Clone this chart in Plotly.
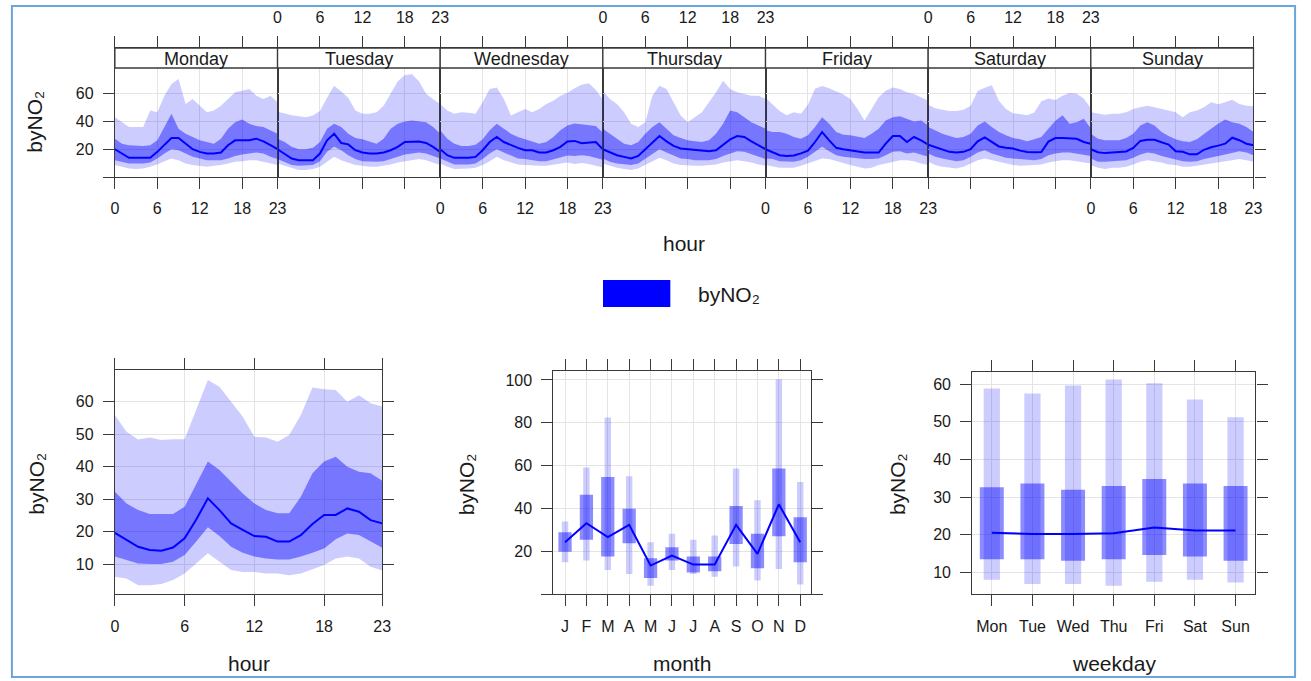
import plotly.graph_objects as go

W, H = 1311, 681

# ---------------- data ----------------
HOURS = list(range(24))
DAYS = ["Monday", "Tuesday", "Wednesday", "Thursday", "Friday", "Saturday", "Sunday"]
VAR_NAME = "byNO\u2082"

MON_MED = [20, 16.9, 13.8, 13.8, 13.8, 13.8, 18.1, 22.9, 28.1, 28.1, 24, 20, 18.1, 16.9, 16.9, 17.6, 22.9, 26.4, 26.4, 26.4, 27.6, 25.7, 22.9, 20]
MON_P75 = [27.6, 24, 22.9, 22.4, 22.4, 22.9, 26.4, 36, 45.5, 34.8, 31.2, 28.8, 26.4, 25.2, 24, 27.6, 34.8, 39.5, 41.4, 38.3, 36.7, 36, 33.6, 31.2]
MON_P25 = [12.1, 11, 9.8, 9.8, 9.8, 10.5, 13.3, 16.9, 20, 19.3, 16.9, 14.5, 13.3, 12.1, 12.1, 12.1, 13.3, 15.2, 16.2, 16.9, 17.6, 16.9, 14.5, 12.9]
MON_P95 = [43.1, 39.5, 36, 36, 36, 47.9, 46.7, 58.6, 66.9, 70.5, 52.6, 56.2, 51.4, 46.7, 47.9, 51.4, 56.2, 61, 62.1, 63.3, 58.6, 56.2, 58.6, 53.8]
MON_P05 = [8.6, 7.4, 6.2, 5.7, 6.2, 7.4, 9.0, 11.4, 13.3, 12.1, 9.8, 8.6, 8.1, 7.4, 8.1, 8.6, 9.8, 11, 11.4, 12.1, 12.1, 11, 9.8, 8.6]

TUE_MED = [20, 16.9, 13.3, 12.1, 12.1, 12.1, 16.9, 26.4, 31.2, 24.5, 23.5, 19.3, 17.6, 16.9, 16.9, 17.6, 19.3, 21.7, 25.2, 25.5, 25.5, 24.5, 21.7, 18]
TUE_P75 = [27.6, 25.2, 21.7, 20, 20, 21, 25.2, 34.8, 38.3, 36, 31.2, 28.1, 27.1, 25.7, 24, 27.6, 34.8, 38.3, 40, 40.7, 40, 39.5, 36, 31.2]
TUE_P25 = [12.9, 11, 8.6, 8.1, 8.1, 8.6, 11.4, 18.1, 21.7, 19.3, 15.7, 12.9, 11.4, 11, 11, 11.4, 12.9, 14.5, 16.2, 16.9, 17.6, 16.9, 15.2, 13.3]
TUE_P95 = [47, 45.5, 44.5, 43.8, 43.1, 44.3, 47.5, 57, 65.7, 61.5, 57, 47.9, 45.5, 45.5, 46.7, 51.4, 60, 69, 73.5, 74, 69, 60, 56, 52.6]
TUE_P05 = [9.8, 8.1, 6.2, 5, 5, 5.7, 7.4, 11, 14.5, 12.1, 10.5, 8.6, 8.1, 7.4, 7.4, 8.1, 9, 10.5, 11.4, 12.1, 12.9, 12.1, 10.5, 8.6]

WED_MED = [20, 15.7, 13.8, 13.8, 13.8, 14.5, 19.3, 25.2, 28.8, 25.2, 22.9, 21, 19.3, 19.3, 17.6, 17.6, 19.3, 21.7, 25.6, 26, 24.3, 24.8, 25.2, 20]
WED_P75 = [33.6, 27.6, 24, 22.4, 22.4, 23.3, 27.1, 33.6, 38.3, 34.8, 31.2, 28.8, 27.1, 25.7, 24, 25.2, 28.8, 33.6, 37, 38.6, 37.9, 37.1, 36.7, 31.9]
WED_P25 = [13.3, 11, 9, 9, 9, 9.8, 12.9, 16.9, 20, 17.6, 15.2, 13.3, 12.9, 12.1, 11.4, 11.4, 12.9, 14.5, 15.5, 15.2, 15.7, 15.2, 14, 12.4]
WED_P95 = [52.5, 47.9, 45.5, 46.7, 46.2, 45.5, 53.8, 63.3, 64.5, 56.2, 44.3, 46.7, 49, 46.7, 49, 52.6, 55, 58.6, 60.7, 64, 66.4, 67.6, 62.9, 55.7]
WED_P05 = [9.8, 7.4, 5.7, 5.7, 6.2, 6.7, 8.6, 11.4, 14.5, 12.1, 10.5, 9, 8.6, 8.1, 8.1, 8.1, 9, 9.8, 10.5, 9.3, 10, 9.3, 8.1, 6.9]

THU_MED = [20, 17.6, 15.7, 14.5, 13.3, 15.2, 20, 25.2, 29.5, 25.7, 22.4, 20.5, 20, 19.3, 19.3, 18.6, 19.3, 22.9, 27.1, 29.5, 28.8, 25.7, 22.9, 20]
THU_P75 = [34.8, 31.2, 27.1, 24, 22.9, 25.2, 31.2, 36, 39.5, 34.8, 30, 28.1, 26.4, 25.7, 25.2, 26.4, 31.2, 38.3, 47.9, 46.7, 43.1, 39.5, 37.1, 34.8]
THU_P25 = [13.3, 11, 9.8, 9, 8.6, 9.8, 13.3, 16.9, 20, 17.6, 15.2, 13.3, 12.9, 12.1, 12.1, 12.1, 12.9, 15.2, 16.9, 18.6, 18.1, 16.2, 14.5, 12.9]
THU_P95 = [62.1, 56.2, 52.6, 46.7, 38.3, 36, 39.5, 58.6, 65.7, 63.3, 53.8, 44.3, 39.5, 43.1, 46.7, 53.8, 61, 69.3, 63.3, 61, 59.8, 58.6, 58.6, 56.2]
THU_P05 = [9.8, 8.1, 6.7, 5.7, 5, 6.2, 8.6, 11.4, 13.8, 12.1, 9.8, 8.6, 8.1, 8.1, 8.1, 8.6, 9, 10.5, 11.4, 12.1, 11.4, 10.5, 9, 8.1]

FRI_MED = [20, 17.6, 15.7, 15.2, 15.5, 17, 19, 25.2, 32.4, 26.4, 21, 20, 19.3, 18.6, 17.6, 17.6, 17.6, 24, 29.5, 29.5, 25.2, 28.8, 26.4, 23.3]
FRI_P75 = [33.6, 32.4, 32.4, 31.2, 28.8, 27.6, 30, 36, 43.1, 38.3, 32.4, 30.5, 30, 28.8, 28.1, 31.2, 34.8, 40.7, 43.1, 43.8, 41.9, 40, 40.7, 37.1]
FRI_P25 = [13.3, 12.9, 11.4, 11, 11, 12.1, 14.5, 18.1, 21.7, 18.6, 15.7, 14.5, 13.8, 13.3, 12.9, 12.9, 13.3, 15.7, 18.1, 18.6, 16.9, 17.6, 16.2, 14.5]
FRI_P95 = [57, 52.5, 47.5, 44.5, 46.7, 45.5, 52, 63.5, 65.5, 64, 62, 59.5, 56.2, 49, 40.7, 49, 57.4, 62.1, 64.5, 63.3, 61, 59.8, 57.4, 55]
FRI_P05 = [8.6, 7.4, 6.7, 6.7, 6.7, 8.1, 9.8, 11.4, 13.3, 12.9, 11.4, 9.8, 8.6, 7.4, 6.2, 6.7, 8.6, 9.8, 11, 12.1, 12.1, 11.4, 9.8, 8.6]

SAT_MED = [23.3, 21.7, 20, 18.1, 17.6, 18.1, 20, 25.7, 28.5, 25.5, 22, 21, 20.5, 19, 18, 17.8, 18, 25.5, 28, 28, 27.6, 27.5, 25.2, 24]
SAT_P75 = [36, 33.6, 31.2, 29.5, 28.1, 28.8, 31.2, 37.1, 40, 36, 32.4, 30, 28.1, 27.1, 25.7, 27.1, 28.8, 34.8, 40.5, 44.5, 38.3, 39.5, 42, 35]
SAT_P25 = [16.9, 14.5, 13.3, 12.1, 11.4, 12.1, 14.5, 17.6, 19.3, 16.9, 15.2, 13.8, 13.3, 12.9, 12.1, 12.1, 12.9, 15.7, 16.9, 17.6, 17.6, 16.9, 16.2, 15.2]
SAT_P95 = [52, 49.5, 48.5, 47.5, 47.5, 48.5, 51.4, 62, 64.2, 66, 55, 49, 46, 45, 44.5, 46.5, 54.5, 56.5, 55.5, 58.5, 60.5, 60, 56.5, 49.5]
SAT_P05 = [11, 8.6, 7.4, 6.7, 6.2, 7.4, 9.8, 12.1, 13.3, 12.1, 11, 9.8, 8.6, 8.1, 8.1, 8.6, 9, 10.5, 11.4, 12.1, 12.1, 11.4, 10.5, 9.8]

SUN_MED = [20, 17.8, 17.2, 17.6, 17.8, 18.4, 21, 26, 26.8, 26.8, 25, 23.4, 18.5, 18.2, 16.3, 16.3, 19.6, 21.4, 22.6, 24, 28.3, 26.5, 24, 22.9]
SUN_P75 = [31.2, 27.6, 26.4, 26.4, 26.4, 28.1, 31.2, 37.1, 39.5, 37.1, 32.4, 29.5, 27.1, 25.7, 25.2, 27.1, 31.2, 34.8, 38.3, 41.4, 39.5, 38.3, 36, 32.4]
SUN_P25 = [13.3, 11, 11, 11.4, 11.4, 12.1, 13.8, 16.2, 17.6, 16.9, 15.2, 13.8, 12.9, 11.4, 11, 11.4, 12.9, 13.8, 15.2, 16.2, 17.6, 18.6, 17.6, 15.7]
SUN_P95 = [46.7, 45.5, 44.8, 45.5, 45.5, 46.7, 49, 50.2, 51.4, 50.2, 49, 47.9, 46.7, 43.1, 46.7, 47.9, 50.2, 53.8, 52.4, 53.8, 55.7, 52.6, 51.4, 51]
SUN_P05 = [8.6, 6.7, 5.7, 6.7, 6.7, 7.4, 9, 11, 12.1, 11.4, 10.5, 9, 8.6, 7.4, 7.4, 8.1, 9, 9.8, 11, 11.4, 12.1, 12.9, 12.1, 11]

HOUR_MED = [19.7, 17.5, 15.4, 14.4, 14.2, 15.2, 18, 23.8, 30.3, 26.7, 22.6, 20.6, 18.7, 18.5, 17, 17, 19, 22.4, 25.2, 25.2, 27.2, 26.2, 23.6, 22.6]
HOUR_P75 = [32.3, 28.75, 26.7, 25.5, 25.5, 25.5, 27.7, 34.9, 41.6, 39, 35.4, 31.8, 28.75, 26.7, 25.7, 25.7, 30.8, 38, 41.6, 43.1, 40, 38.5, 38, 35.7]
HOUR_P25 = [12.4, 11.3, 10.3, 10.1, 10.1, 10.8, 12.9, 17, 21.4, 18.7, 15.4, 13.6, 12.4, 11.8, 11.5, 11.5, 12.4, 13.6, 14.9, 17.7, 19.5, 19, 17, 15.1]
HOUR_P95 = [55.9, 50.8, 48.4, 49, 48.2, 48.5, 48.5, 57.4, 66.7, 64.6, 60, 55.4, 49.2, 49, 47.7, 49.8, 55.9, 64.4, 63.8, 63.6, 60, 62, 59.5, 58.5]
HOUR_P05 = [6.2, 5.7, 3.6, 3.6, 4, 5.2, 7.2, 10.3, 13.4, 10.8, 8.3, 7.7, 7.7, 7.2, 7.2, 6.7, 7.2, 8.5, 9.8, 11.8, 12.4, 11.8, 9.3, 8.1]

MONTH_LABELS = ["J", "F", "M", "A", "M", "J", "J", "A", "S", "O", "N", "D"]
MONTH_MED = [24.2, 33.1, 26.6, 32.3, 13.3, 18, 13.75, 13.75, 32.3, 18.75, 41.9, 24.2]
MONTH_P25 = [19.8, 25.3, 17.5, 23.75, 7.5, 15.6, 10, 10.6, 23.4, 12, 27, 14.8]
MONTH_P75 = [28.9, 46.4, 54.7, 39.8, 16.7, 21.9, 17.5, 17.5, 41.1, 28.1, 58.6, 35.9]
MONTH_P05 = [14.8, 15.6, 11.25, 9.4, 3.9, 11.25, 9.4, 8.1, 12.8, 6.25, 11.7, 4.4]
MONTH_P95 = [33.9, 59.1, 82.5, 55, 24.2, 28.1, 25.3, 27.3, 58.6, 43.75, 100.3, 52.3]

WDAY_LABELS = ["Mon", "Tue", "Wed", "Thu", "Fri", "Sat", "Sun"]
WDAY_MED = [20.5, 20.2, 20.2, 20.4, 21.9, 21.1, 21.1]
WDAY_P25 = [13.5, 13.5, 13.1, 13.5, 14.6, 14.2, 13.1]
WDAY_P75 = [32.6, 33.6, 31.9, 32.9, 34.8, 33.6, 32.9]
WDAY_P05 = [8.0, 6.9, 6.9, 6.4, 7.5, 8.0, 7.3]
WDAY_P95 = [58.8, 57.5, 59.6, 61.2, 60.2, 55.9, 51.2]

DAY_SERIES = [
    (MON_P05, MON_P25, MON_MED, MON_P75, MON_P95),
    (TUE_P05, TUE_P25, TUE_MED, TUE_P75, TUE_P95),
    (WED_P05, WED_P25, WED_MED, WED_P75, WED_P95),
    (THU_P05, THU_P25, THU_MED, THU_P75, THU_P95),
    (FRI_P05, FRI_P25, FRI_MED, FRI_P75, FRI_P95),
    (SAT_P05, SAT_P25, SAT_MED, SAT_P75, SAT_P95),
    (SUN_P05, SUN_P25, SUN_MED, SUN_P75, SUN_P95),
]

# ---------------- style ----------------
FONT = "Liberation Sans, Arial, DejaVu Sans, sans-serif"
TXT = "#1a1a1a"
AXC = "#3a3a3a"
LW = 1.3
GRID = "#e4e4e4"
OUTER = "rgba(0,0,255,0.2)"
INNER = "rgba(0,0,255,0.42)"
LINE = "#0000ff"
TICKF = dict(family=FONT, size=16, color=TXT)
TITLEF = dict(family=FONT, size=21, color=TXT)


def fx(p):
    return p / W


def fy(p):
    return 1 - p / H


fig = go.Figure()


def add_band(xa, ya, x, p05, p25, med, p75, p95):
    kw = dict(xaxis=xa, yaxis=ya, mode="lines", hoverinfo="skip", showlegend=False)
    fig.add_trace(go.Scatter(x=x, y=p05, line=dict(width=0, color=OUTER), **kw))
    fig.add_trace(go.Scatter(x=x, y=p95, fill="tonexty", fillcolor=OUTER, line=dict(width=0, color=OUTER), **kw))
    fig.add_trace(go.Scatter(x=x, y=p25, line=dict(width=0, color=INNER), **kw))
    fig.add_trace(go.Scatter(x=x, y=p75, fill="tonexty", fillcolor=INNER, line=dict(width=0, color=INNER), **kw))
    fig.add_trace(go.Scatter(x=x, y=med, line=dict(width=2, color=LINE), **kw))


layout = dict(
    width=W, height=H, margin=dict(l=0, r=0, t=0, b=0),
    paper_bgcolor="white", plot_bgcolor="rgba(0,0,0,0)",
    showlegend=False, barmode="overlay",
)
shapes = []
annotations = []

ZERO_TICK = dict(tickmode="array", tickvals=[0], ticks="outside", ticklen=11, tickcolor=AXC,
                 tickwidth=LW, showgrid=False)

# ---------------- top: day.hour panels ----------------
LEFT, RIGHT = 112, 1262
PW = (RIGHT - LEFT) / 7
TOP_BOTTOM, STRIP_BOT, STRIP_TOP = 177, 68, 48
DATA_TOP = 78.5
YTOP = DATA_TOP * (TOP_BOTTOM - STRIP_TOP) / (TOP_BOTTOM - STRIP_BOT)
strip_frac = (TOP_BOTTOM - STRIP_BOT) / (TOP_BOTTOM - STRIP_TOP)

for i, day in enumerate(DAYS):
    n = "" if i == 0 else str(i + 1)
    xa, ya = "x" + n, "y" + n
    p05, p25, med, p75, p95 = DAY_SERIES[i]
    add_band(xa, ya, HOURS, p05, p25, med, p75, p95)
    side = "bottom" if i % 2 == 0 else "top"
    layout["xaxis" + n] = dict(
        domain=[fx(LEFT + i * PW), fx(LEFT + (i + 1) * PW)], anchor=ya,
        range=[0, 23], tickvals=[0, 6, 12, 18, 23], ticks="outside", ticklen=11,
        tickcolor=AXC, tickwidth=LW, showline=True, linecolor=AXC, linewidth=LW, mirror="ticks",
        showgrid=True, gridcolor=GRID, zeroline=False, side=side,
        tickfont=TICKF, ticklabelstandoff=6,
    )
    yd = dict(
        domain=[fy(TOP_BOTTOM), fy(STRIP_TOP)], anchor=xa, range=[0, YTOP],
        tickvals=[20, 40, 60],
        showline=True, linecolor=AXC, linewidth=LW, mirror=True,
        showgrid=True, gridcolor=GRID, zeroline=False, tickfont=TICKF,
        tickcolor=AXC, tickwidth=LW, ticklen=11,
    )
    if i == 0:
        yd.update(ticks="outside", side="left", showticklabels=True, ticklabelstandoff=6, minor=ZERO_TICK)
    elif i == 6:
        yd.update(ticks="outside", side="right", showticklabels=False, minor=ZERO_TICK)
    else:
        yd.update(ticks="", showticklabels=False)
    layout["yaxis" + n] = yd
    shapes.append(dict(type="rect", xref=xa + " domain", yref=ya + " domain",
                       x0=0, x1=1, y0=strip_frac, y1=1, fillcolor="white",
                       line=dict(color=AXC, width=LW), layer="above"))
    annotations.append(dict(text=day, xref=xa + " domain", yref=ya + " domain",
                            x=0.5, y=(strip_frac + 1) / 2 - 0.01, xanchor="center", yanchor="middle",
                            showarrow=False, font=dict(family=FONT, size=18, color=TXT)))

annotations.append(dict(text="hour", xref="paper", yref="paper", x=fx((LEFT + RIGHT) / 2), y=fy(243),
                        showarrow=False, font=TITLEF, xanchor="center", yanchor="middle"))
annotations.append(dict(text=VAR_NAME, xref="paper", yref="paper", x=fx(30), y=fy(122),
                        showarrow=False, font=TITLEF, textangle=-90, xanchor="center", yanchor="middle"))

# ---------------- legend ----------------
shapes.append(dict(type="rect", xref="paper", yref="paper", x0=fx(605), x1=fx(673), y0=fy(307), y1=fy(280),
                   fillcolor=LINE, line=dict(width=0)))
annotations.append(dict(text=VAR_NAME, xref="paper", yref="paper", x=fx(699), y=fy(294),
                        showarrow=False, font=TITLEF, xanchor="left", yanchor="middle"))

# ---------------- bottom: hour ----------------
add_band("x8", "y8", HOURS, HOUR_P05, HOUR_P25, HOUR_MED, HOUR_P75, HOUR_P95)
common_x = dict(ticks="outside", ticklen=11, tickcolor=AXC, tickwidth=LW, showline=True, linecolor=AXC,
                linewidth=LW, mirror="ticks", showgrid=True, gridcolor=GRID, zeroline=False, tickfont=TICKF,
                ticklabelstandoff=7)
common_y = dict(ticks="outside", ticklen=11, tickcolor=AXC, tickwidth=LW, showline=True, linecolor=AXC,
                linewidth=LW, mirror="ticks", showgrid=True, gridcolor=GRID, zeroline=False, tickfont=TICKF,
                ticklabelstandoff=6)
layout["xaxis8"] = dict(domain=[fx(112), fx(382)], anchor="y8", range=[0, 23],
                        tickvals=[0, 6, 12, 18, 23], **common_x)
layout["yaxis8"] = dict(domain=[fy(594), fy(370)], anchor="x8", range=[0.9, 69.75],
                        tickvals=[10, 20, 30, 40, 50, 60], **common_y)

# ---------------- bottom: month ----------------
mx = list(range(1, len(MONTH_LABELS) + 1))
fig.add_trace(go.Bar(x=mx, y=[b - a for a, b in zip(MONTH_P05, MONTH_P95)], base=MONTH_P05, width=0.3,
                     marker=dict(color=OUTER, line=dict(width=0)), xaxis="x9", yaxis="y9", hoverinfo="skip"))
fig.add_trace(go.Bar(x=mx, y=[b - a for a, b in zip(MONTH_P25, MONTH_P75)], base=MONTH_P25, width=0.62,
                     marker=dict(color="rgba(0,0,255,0.45)", line=dict(width=0)), xaxis="x9", yaxis="y9",
                     hoverinfo="skip"))
fig.add_trace(go.Scatter(x=mx, y=MONTH_MED, mode="lines", line=dict(color=LINE, width=2),
                         xaxis="x9", yaxis="y9", hoverinfo="skip"))
layout["xaxis9"] = dict(domain=[fx(555), fx(815)], anchor="y9", range=[0.46, 12.5],
                        tickvals=mx, ticktext=MONTH_LABELS, **common_x)
layout["yaxis9"] = dict(domain=[fy(594), fy(371)], anchor="x9", range=[0, 104.2],
                        tickvals=[20, 40, 60, 80, 100], minor=ZERO_TICK, **common_y)

# ---------------- bottom: weekday ----------------
wx = list(range(1, len(WDAY_LABELS) + 1))
fig.add_trace(go.Bar(x=wx, y=[b - a for a, b in zip(WDAY_P05, WDAY_P95)], base=WDAY_P05, width=0.4,
                     marker=dict(color=OUTER, line=dict(width=0)), xaxis="x10", yaxis="y10", hoverinfo="skip"))
fig.add_trace(go.Bar(x=wx, y=[b - a for a, b in zip(WDAY_P25, WDAY_P75)], base=WDAY_P25, width=0.59,
                     marker=dict(color="rgba(0,0,255,0.45)", line=dict(width=0)), xaxis="x10", yaxis="y10",
                     hoverinfo="skip"))
fig.add_trace(go.Scatter(x=wx, y=WDAY_MED, mode="lines", line=dict(color=LINE, width=2),
                         xaxis="x10", yaxis="y10", hoverinfo="skip"))
layout["xaxis10"] = dict(domain=[fx(978), fx(1264)], anchor="y10", range=[0.52, 7.49],
                         tickvals=wx, ticktext=WDAY_LABELS, **common_x)
layout["yaxis10"] = dict(domain=[fy(594), fy(372)], anchor="x10", range=[4.24, 63.2],
                         tickvals=[10, 20, 30, 40, 50, 60], **common_y)

# bottom titles
for txt, x in [("hour", 247), ("month", 685), ("weekday", 1121)]:
    annotations.append(dict(text=txt, xref="paper", yref="paper", x=fx(x), y=fy(663), showarrow=False,
                            font=TITLEF, xanchor="center", yanchor="middle"))
for x in [32, 467, 902]:
    annotations.append(dict(text=VAR_NAME, xref="paper", yref="paper", x=fx(x), y=fy(484),
                            showarrow=False, font=TITLEF, textangle=-90, xanchor="center", yanchor="middle"))

# outer border
shapes.append(dict(type="rect", xref="paper", yref="paper", x0=fx(8), x1=fx(1304), y0=fy(677), y1=fy(6),
                   line=dict(color="#6aa6dc", width=2), fillcolor="rgba(0,0,0,0)", layer="above"))

layout["shapes"] = shapes
layout["annotations"] = annotations
fig.update_layout(**layout)
fig.write_html("out.html")
